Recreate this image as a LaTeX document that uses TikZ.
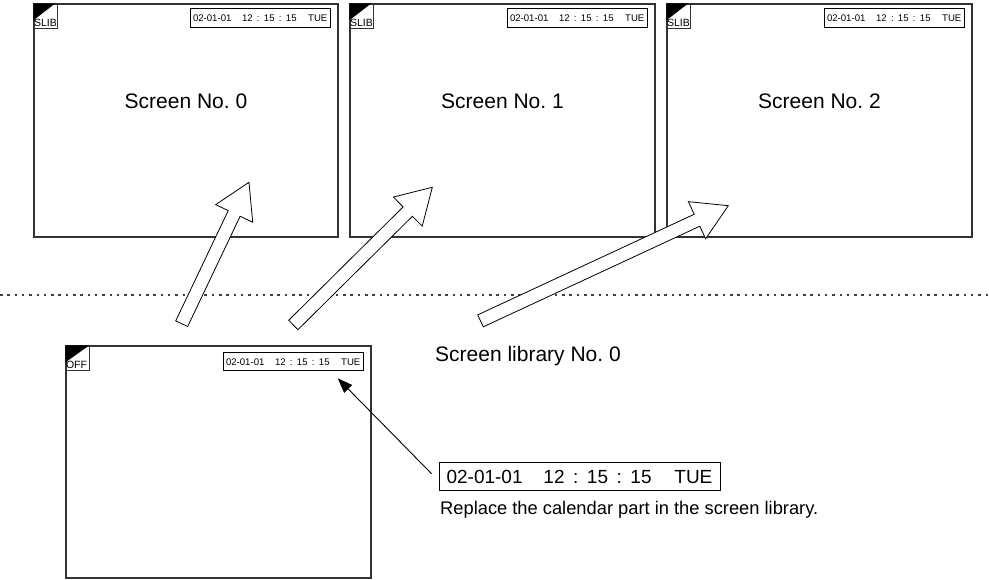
\documentclass[tikz,border=0pt]{standalone}
\usepackage{fontspec}
\setmainfont{Liberation Sans}
\usetikzlibrary{calc,arrows.meta}
\frenchspacing
\newcommand\datestr{02-01-01\hspace{1.1em}12\hspace{.45em}:\hspace{.45em}15\hspace{.45em}:\hspace{.45em}15\hspace{1.2em}TUE}
\newcommand\blockarrow[2]{%
  \path ($(#2)!34.5pt!(#1)$) coordinate (#1b);
  \draw[blockarr] ($(#1)!6.6pt!90:(#2)$) -- ($(#1b)!6.6pt!90:(#2)$) -- ($(#1b)!20.5pt!90:(#2)$) -- (#2)
     -- ($(#1b)!20.5pt!-90:(#2)$) -- ($(#1b)!6.6pt!-90:(#2)$) -- ($(#1)!6.6pt!-90:(#2)$) -- cycle;}
\begin{document}
\begin{tikzpicture}[x=1pt,y=-1pt,
  scr/.style={draw=black!80,line width=1.3pt,inner sep=0pt,minimum height=233pt},
  cal/.style={draw=black,line width=0.9pt,inner sep=0pt,minimum width=140pt,minimum height=19pt,font=\fontsize{9.6}{11}\selectfont},
  bigcal/.style={draw=black,line width=0.9pt,inner sep=0pt,minimum width=281pt,minimum height=28pt,font=\fontsize{19}{22}\selectfont},
  corner/.style={draw=black!80,line width=1pt,inner sep=0pt,minimum width=24pt,minimum height=25pt,anchor=north west},
  cornertxt/.style={anchor=base west,inner sep=0pt,font=\fontsize{10.5}{12}\selectfont},
  blockarr/.style={draw=black,line width=0.8pt,fill=white,line join=miter},
  title/.style={font=\fontsize{21}{25}\selectfont,inner sep=0pt,anchor=base},
  dotline/.style={draw=black!75,line width=1.1pt,dash pattern=on 2.5pt off 4.8pt},
]
\useasboundingbox (0,0) rectangle (989,580);
% dotted separator
\coordinate (dl) at (0,295);
\coordinate (dr) at (989,295);
\draw[dotline] (dl) -- (dr);
% screens
\node[scr,minimum width=304pt] (s0) at (186,120.5) {};
\node[scr,minimum width=305pt] (s1) at (502.5,120.5) {};
\node[scr,minimum width=305pt] (s2) at (819.5,120.5) {};
\node[scr,minimum width=305pt,minimum height=232pt] (off) at (218.5,462) {};
\foreach \s in {s0,s1,s2}{
  \node[corner] (c\s) at (\s.north west) {};
  \fill (c\s.north west) -- ++(22,0) -- ++(-22,17) -- cycle;
  \node[cornertxt] (l\s) at ($(c\s.north west)+(0.5,23.5)$) {SLIB};
  \node[cal,anchor=north east] (d\s) at ($(\s.north east)+(-8,5)$) {\datestr};
}
\node[corner] (coff) at (off.north west) {};
\fill (coff.north west) -- ++(24,0) -- ++(-24,17) -- cycle;
\node[cornertxt] (loff) at ($(coff.north west)+(0.5,23.5)$) {OFF};
\node[cal,anchor=north east,minimum height=18pt] (doff) at ($(off.north east)+(-8,7)$) {\datestr};
% screen titles
\node[title] (t0) at (186,109) {Screen No. 0};
\node[title] (t1) at (502.5,109) {Screen No. 1};
\node[title] (t2) at (819.5,109) {Screen No. 2};
% block arrows
\coordinate (a1) at (181.7,323.7); \coordinate (h1) at (249,182.3);
\coordinate (a2) at (293.3,325);   \coordinate (h2) at (432.3,187.3);
\coordinate (a3) at (480.5,320.85); \coordinate (h3) at (728.3,205.7);
\blockarrow{a1}{h1}
\blockarrow{a2}{h2}
\blockarrow{a3}{h3}
% library label
\node[font=\fontsize{21}{25}\selectfont,inner sep=0pt,anchor=base west] (lib) at (435,362) {Screen library No. 0};
% big calendar part
\node[bigcal] (big) at (579.5,476.7) {\datestr};
\node[font=\fontsize{18.3}{22}\selectfont,inner sep=0pt,anchor=base west] (rep) at (440,514) {Replace the calendar part in the screen library.};
% pointer arrow
\coordinate (pf) at ($(big.west)+(-7,-3)$);
\coordinate (pt) at ($(doff.south east)+(-26,7)$);
\draw[line width=0.9pt,-{Triangle[length=15pt,width=11pt]}] (pf) -- (pt);
\end{tikzpicture}
\end{document}
